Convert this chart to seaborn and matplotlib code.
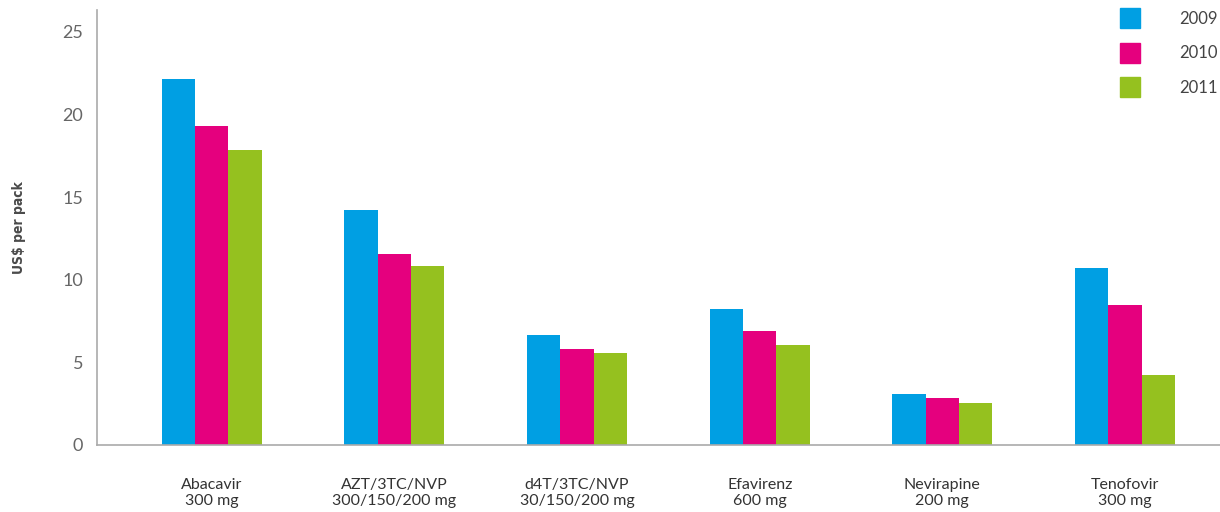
import matplotlib
matplotlib.use("Agg")
import matplotlib.pyplot as plt
import matplotlib.patches as mpatches
import pandas as pd
import seaborn as sns

# Data
drugs = ["Abacavir\n300 mg", "AZT/3TC/NVP\n300/150/200 mg", "d4T/3TC/NVP\n30/150/200 mg",
         "Efavirenz\n600 mg", "Nevirapine\n200 mg", "Tenofovir\n300 mg"]
years = ["2009", "2010", "2011"]
price_2009 = [22.15, 14.22, 6.66, 8.23, 3.09, 10.71]
price_2010 = [19.30, 11.56, 5.81, 6.90, 2.85, 8.47]
price_2011 = [17.86, 10.83, 5.57, 6.05, 2.54, 4.24]
colors = ["#009FE3", "#E5007E", "#95C11F"]

df = pd.DataFrame({
    "drug": drugs * 3,
    "year": [y for y in years for _ in drugs],
    "price": price_2009 + price_2010 + price_2011,
})

sns.set_style("white")
plt.rcParams["font.family"] = ["Lato", "DejaVu Sans"]

fig = plt.figure(figsize=(12.2, 5.12), dpi=100)
ax = fig.add_axes([0.0795, 0.131, 0.9205, 0.849])

sns.barplot(data=df, x="drug", y="price", hue="year", palette=colors,
            width=0.547, saturation=1, gap=0, linewidth=0, ax=ax, legend=False)

ax.set_xlim(-0.628, 5.52)
ax.set_ylim(0, 26.3)
ax.set_yticks([0, 5, 10, 15, 20, 25])
ax.set_xlabel("")
ax.set_ylabel("US$ per pack", fontsize=10, fontweight="bold", color="#4a4a4a",
              family=["DejaVu Sans"], fontstretch="condensed")
ax.yaxis.set_label_coords(-0.063, 0.5)

ax.tick_params(axis="both", length=0)
ax.tick_params(axis="x", pad=24, labelsize=11.5, labelcolor="#333333")
ax.tick_params(axis="y", pad=10, labelsize=13, labelcolor="#666666")

for side in ["top", "right"]:
    ax.spines[side].set_visible(False)
for side in ["left", "bottom"]:
    ax.spines[side].set_color("#aaaaaa")
    ax.spines[side].set_linewidth(1.2)

handles = [mpatches.Patch(color=c, label=y) for c, y in zip(colors, years)]
leg = fig.legend(handles=handles, loc="upper right", bbox_to_anchor=(1218 / 1220, 1 - 8 / 512),
                 frameon=False, handlelength=1.2, handleheight=1.5, borderpad=0,
                 borderaxespad=0, handletextpad=2.4, labelspacing=0.85, fontsize=12)
for t in leg.get_texts():
    t.set_color("#444444")

fig.savefig("out.png", dpi=100)
